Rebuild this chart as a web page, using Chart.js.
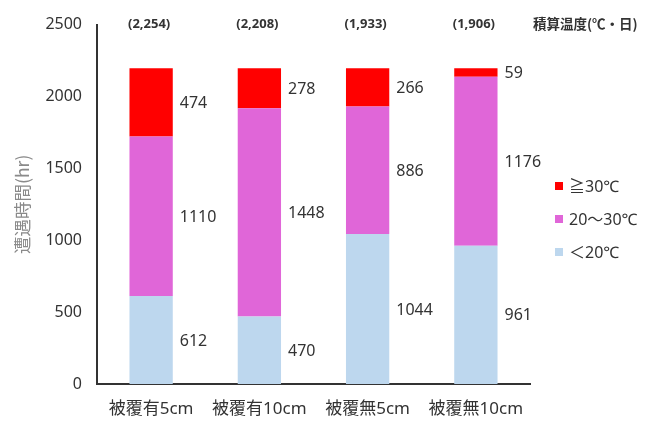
<!DOCTYPE html>
<html lang="ja">
<head>
    <meta charset="UTF-8">
    <title>遭遇時間</title>
    <script src="https://cdn.jsdelivr.net/npm/chart.js"></script>
    <style>
        html, body { margin: 0; padding: 0; background: #fff; }
        #wrap { width: 653px; height: 421px; position: relative; }
    </style>
</head>
<body>
    <div id="wrap"><canvas id="chart"></canvas></div>
    <script>
        const categories = ["被覆有5cm", "被覆有10cm", "被覆無5cm", "被覆無10cm"];
        const below20 = [612, 470, 1044, 961];
        const from20to30 = [1110, 1448, 886, 1176];
        const above30 = [474, 278, 266, 59];
        const heatSums = [2254, 2208, 1933, 1906];   // 積算温度(℃・日)
        const seriesNames = ["＜20℃", "20～30℃", "≧30℃"];
        const yTicks = [0, 500, 1000, 1500, 2000, 2500];

        const FONT = "'Noto Sans', 'Noto Sans CJK JP', sans-serif";
        const TEXT = "#333333";

        // value labels to the right of each segment, top notes, custom legend
        const extras = {
            id: "extras",
            afterDatasetsDraw(chart) {
                const ctx = chart.ctx;
                ctx.save();
                ctx.fillStyle = TEXT;
                ctx.font = "16px " + FONT;
                ctx.textAlign = "left";
                ctx.textBaseline = "middle";
                chart.data.datasets.forEach((ds, di) => {
                    chart.getDatasetMeta(di).data.forEach((bar, i) => {
                        const right = bar.x + bar.width / 2;
                        ctx.fillText(String(ds.data[i]), right + 7, (bar.y + bar.base) / 2 + 1);
                    });
                });

                // heat sums above bars
                const x = chart.scales.x;
                ctx.font = "bold 13px " + FONT;
                ctx.textAlign = "center";
                heatSums.forEach((v, i) => {
                    ctx.fillText("(" + v.toLocaleString("en-US") + ")", x.getPixelForValue(i) - 2, 24);
                });
                ctx.font = "bold 13.5px 'Noto Sans CJK JP', sans-serif";
                ctx.textAlign = "left";
                ctx.fillText("積算温度(℃・日)", 533, 24);

                // legend, top entry is the top stack
                ctx.font = "16px " + FONT;
                const order = [2, 1, 0];
                order.forEach((di, k) => {
                    const y = 186 + k * 33;
                    ctx.fillStyle = chart.data.datasets[di].backgroundColor;
                    ctx.fillRect(555, y - 4, 8, 8);
                    ctx.fillStyle = TEXT;
                    ctx.fillText(chart.data.datasets[di].label, 569, y + 1);
                });
                ctx.restore();
            }
        };

        new Chart(document.getElementById("chart"), {
            type: "bar",
            data: {
                labels: categories,
                datasets: [
                    { label: seriesNames[0], data: below20, backgroundColor: "#BDD7EE" },
                    { label: seriesNames[1], data: from20to30, backgroundColor: "#E066D8" },
                    { label: seriesNames[2], data: above30, backgroundColor: "#FF0000" }
                ]
            },
            options: {
                responsive: true,
                maintainAspectRatio: false,
                animation: false,
                layout: { padding: { left: 0, right: 123, top: 22, bottom: 0 } },
                plugins: {
                    legend: { display: false },
                    tooltip: { enabled: false }
                },
                datasets: {
                    bar: { categoryPercentage: 1, barPercentage: 0.4 }
                },
                scales: {
                    x: {
                        stacked: true,
                        grid: { display: false, drawTicks: false },
                        border: { display: true, color: "#333", width: 2 },
                        ticks: { color: TEXT, padding: 15, font: { family: FONT, size: 17 } },
                        afterFit(s) { s.height = 37; }
                    },
                    y: {
                        stacked: true,
                        min: 0,
                        max: 2500,
                        afterBuildTicks(s) { s.ticks = yTicks.map(v => ({ value: v })); },
                        grid: { display: false, drawTicks: false },
                        border: { display: true, color: "#333", width: 2 },
                        ticks: {
                            color: TEXT,
                            padding: 15,
                            font: { family: FONT, size: 16 },
                            callback: v => String(v)
                        },
                        title: {
                            display: true,
                            text: "遭遇時間(hr)",
                            color: "#8a8a8a",
                            padding: { top: 12, bottom: 0 },
                            font: { family: "'Noto Sans CJK JP', sans-serif", size: 17.5 }
                        },
                        afterFit(s) { s.width = 97; }
                    }
                }
            },
            plugins: [extras]
        });
    </script>
</body>
</html>
